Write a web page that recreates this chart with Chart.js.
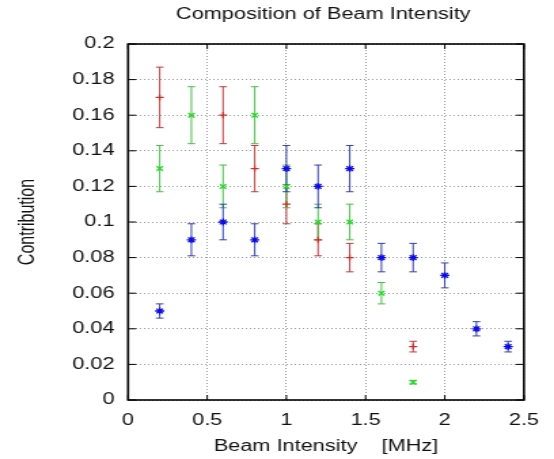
<!DOCTYPE html>
<html>
<head>
<meta charset="utf-8">
<script src="https://cdn.jsdelivr.net/npm/chart.js@4/dist/chart.umd.min.js"></script>
<style>
  html, body { margin: 0; padding: 0; background: #fff; }
</style>
</head>
<body>
<!-- the original picture is stretched sideways, so the canvas is drawn narrow and widened by its inline style -->
<canvas id="chart" width="408" height="459" style="display:block;width:554px;height:459px"></canvas>
<script>
const beamIntensity = [0.2, 0.4, 0.6, 0.8, 1.0, 1.2, 1.4, 1.6, 1.8, 2.0, 2.2, 2.4];

const redValues = [0.17, null, 0.16, 0.13, 0.11, 0.09, 0.08, null, 0.03, null, null, null];
const redErrors = [0.017, null, 0.016, 0.013, 0.011, 0.009, 0.008, null, 0.003, null, null, null];

const greenValues = [0.13, 0.16, 0.12, 0.16, 0.12, 0.10, 0.10, 0.06, 0.01, null, null, null];
const greenErrors = [0.013, 0.016, 0.012, 0.016, 0.012, 0.010, 0.010, 0.006, 0.001, null, null, null];

const blueValues = [0.05, 0.09, 0.10, 0.09, 0.13, 0.12, 0.13, 0.08, 0.08, 0.07, 0.04, 0.03];
const blueErrors = [0.004, 0.009, 0.010, 0.009, 0.013, 0.012, 0.013, 0.008, 0.008, 0.007, 0.004, 0.003];

const xTicks = [0, 0.5, 1, 1.5, 2, 2.5];
const yTicks = [0, 0.02, 0.04, 0.06, 0.08, 0.1, 0.12, 0.14, 0.16, 0.18, 0.2];

const chartTitle = "Composition of Beam Intensity";
const xTitle = "Beam Intensity    [MHz]";
const yTitle = "Contribution";

function points(values, errors) {
    let out = [];
    values.forEach((v, i) => {
        if (v === null) return;
        out.push({ x: beamIntensity[i], y: v, err: errors[i] });
    });
    return out;
}

Chart.defaults.font.family = "'Liberation Sans', Arial, sans-serif";
Chart.defaults.font.size = 16;
Chart.defaults.color = "#111";

// vertical error bars with small caps, drawn under the markers
const errorBars = {
    id: "errorBars",
    beforeDatasetsDraw(chart) {
        const ctx = chart.ctx;
        const xs = chart.scales.x;
        const ys = chart.scales.y;
        chart.data.datasets.forEach(ds => {
            ctx.save();
            ctx.strokeStyle = ds.barColor;
            ctx.lineWidth = 1;
            ds.data.forEach(p => {
                const px = xs.getPixelForValue(p.x);
                const top = ys.getPixelForValue(p.y + p.err);
                const bot = ys.getPixelForValue(p.y - p.err);
                ctx.beginPath();
                ctx.moveTo(px, top);
                ctx.lineTo(px, bot);
                ctx.moveTo(px - 2.8, top);
                ctx.lineTo(px + 2.8, top);
                ctx.moveTo(px - 2.8, bot);
                ctx.lineTo(px + 2.8, bot);
                ctx.stroke();
            });
            ctx.restore();
        });
    }
};

// box round the plot, inward ticks on all four sides, and the title
const frame = {
    id: "frame",
    afterDraw(chart) {
        const ctx = chart.ctx;
        const a = chart.chartArea;
        const xs = chart.scales.x;
        const ys = chart.scales.y;
        ctx.save();
        ctx.strokeStyle = "#000";
        ctx.lineWidth = 1;
        ctx.beginPath();
        xs.ticks.forEach(t => {
            const px = xs.getPixelForValue(t.value);
            ctx.moveTo(px, a.bottom);
            ctx.lineTo(px, a.bottom - 5);
            ctx.moveTo(px, a.top);
            ctx.lineTo(px, a.top + 5);
        });
        ys.ticks.forEach(t => {
            const py = ys.getPixelForValue(t.value);
            ctx.moveTo(a.left, py);
            ctx.lineTo(a.left + 6, py);
            ctx.moveTo(a.right, py);
            ctx.lineTo(a.right - 6, py);
        });
        ctx.stroke();
        ctx.lineWidth = 1.6;
        ctx.strokeRect(a.left, a.top, a.right - a.left, a.bottom - a.top);

        ctx.fillStyle = "#111";
        ctx.font = "16px 'Liberation Sans', Arial, sans-serif";
        ctx.textAlign = "center";
        ctx.textBaseline = "middle";
        ctx.fillText(chartTitle, (a.left + a.right) / 2 - 2, 15);
        ctx.restore();
    }
};

new Chart(document.getElementById("chart"), {
    type: "scatter",
    data: {
        datasets: [
            {
                label: "red",
                data: points(redValues, redErrors),
                pointStyle: "cross",
                pointRadius: 3,
                pointBorderWidth: 1.2,
                borderColor: "#d42a2a",
                backgroundColor: "#d42a2a",
                barColor: "#c03a3a",
                order: 3
            },
            {
                label: "green",
                data: points(greenValues, greenErrors),
                pointStyle: "crossRot",
                pointRadius: 3.2,
                pointBorderWidth: 1.4,
                borderColor: "#22dd22",
                backgroundColor: "#22dd22",
                barColor: "#44c044",
                order: 2
            },
            {
                label: "blue",
                data: points(blueValues, blueErrors),
                pointStyle: "star",
                pointRadius: 3.4,
                pointBorderWidth: 1.3,
                borderColor: "#0a0aee",
                backgroundColor: "#0a0aee",
                barColor: "#3040b4",
                order: 1
            }
        ]
    },
    options: {
        responsive: false,
        animation: false,
        devicePixelRatio: 1,
        events: [],
        layout: { padding: { left: 0, right: 18.4, top: 44, bottom: 0 } },
        plugins: {
            legend: { display: false },
            tooltip: { enabled: false }
        },
        scales: {
            x: {
                type: "linear",
                min: 0,
                max: 2.5,
                afterBuildTicks: s => { s.ticks = xTicks.map(v => ({ value: v })); },
                afterFit: s => { s.height = 59; },
                ticks: {
                    padding: 11,
                    maxRotation: 0,
                    callback: v => String(v)
                },
                grid: { color: "#9a9a9a", lineWidth: 1, drawTicks: false },
                border: { display: false, dash: [1, 2] },
                title: {
                    display: true,
                    text: xTitle,
                    font: { size: 16 },
                    padding: { top: 0, bottom: 2.4 }
                }
            },
            y: {
                type: "linear",
                min: 0,
                max: 0.2,
                afterBuildTicks: s => { s.ticks = yTicks.map(v => ({ value: v })); },
                afterFit: s => { s.width = 94.3; },
                ticks: {
                    padding: 10,
                    callback: v => String(+v.toFixed(2))
                },
                grid: { color: "#9a9a9a", lineWidth: 1, drawTicks: false },
                border: { display: false, dash: [1, 2] },
                title: {
                    display: true,
                    text: yTitle,
                    font: { size: 16 },
                    padding: { top: 10.5, bottom: 0 }
                }
            }
        }
    },
    plugins: [errorBars, frame]
});
</script>
</body>
</html>
